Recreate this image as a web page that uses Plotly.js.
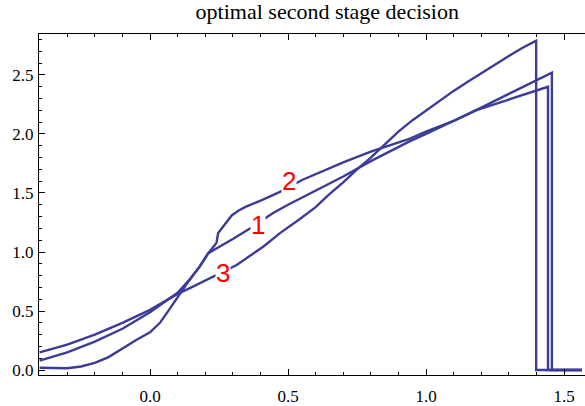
<!DOCTYPE html>
<html>
<head>
<meta charset="utf-8">
<script src="https://cdn.plot.ly/plotly-3.0.1.min.js"></script>
<style>html,body{margin:0;padding:0;background:#fff;}#chart{width:585px;height:406px;}</style>
</head>
<body>
<div id="chart"></div>
<script>
// Curve 1
const x1 = [-0.4,-0.3,-0.2,-0.1,0.0,0.05,0.1,0.145,0.181,0.211,0.25,0.3,0.362,0.446,0.5,0.6,0.7,0.8,0.9,0.942,1.0,1.1,1.18,1.3,1.4,1.456,1.456,1.565];
const y1 = [0.08,0.15,0.24,0.35,0.49,0.57,0.655,0.77,0.88,0.99,1.04,1.11,1.20,1.33,1.40,1.52,1.64,1.77,1.89,1.94,2.00,2.11,2.20,2.34,2.455,2.52,0,0];
// Curve 2
const x2 = [-0.4,-0.35,-0.3,-0.25,-0.2,-0.15,-0.1,-0.05,0.0,0.036,0.072,0.109,0.145,0.181,0.211,0.235,0.241,0.247,0.26,0.272,0.296,0.32,0.344,0.405,0.471,0.551,0.6,0.7,0.8,0.9,0.942,1.0,1.1,1.18,1.3,1.442,1.442,1.565];
const y2 = [0.02,0.015,0.015,0.03,0.06,0.11,0.185,0.255,0.32,0.40,0.52,0.65,0.77,0.88,0.99,1.06,1.08,1.16,1.20,1.24,1.31,1.35,1.38,1.44,1.51,1.61,1.66,1.76,1.85,1.93,1.96,2.02,2.11,2.20,2.29,2.40,0,0];
// Curve 3
const x3 = [-0.4,-0.3,-0.2,-0.1,0.0,0.05,0.1,0.15,0.2,0.236,0.314,0.41,0.471,0.543,0.6,0.65,0.7,0.75,0.8,0.85,0.9,0.95,1.0,1.05,1.1,1.15,1.2,1.25,1.3,1.35,1.399,1.399,1.565];
const y3 = [0.15,0.215,0.30,0.40,0.51,0.575,0.645,0.70,0.76,0.80,0.89,1.045,1.16,1.28,1.38,1.49,1.59,1.70,1.80,1.91,2.02,2.115,2.20,2.285,2.365,2.44,2.515,2.59,2.66,2.73,2.79,0,0];

const labelText = ['1','2','3'];
const labelX = [0.39, 0.504, 0.265];
const labelY = [1.23, 1.60, 0.82];

const lineColor = '#3b3b98';
const traces = [[x1,y1],[x2,y2],[x3,y3]].map(([x,y]) => ({
  x: x, y: y, type: 'scatter', mode: 'lines',
  line: {color: lineColor, width: 2.4}, hoverinfo: 'skip', showlegend: false
}));

const tickFont = {family: 'Liberation Serif', size: 17, color: '#000'};
const layout = {
  width: 585, height: 406,
  margin: {l: 39, r: 0, t: 34, b: 31},
  paper_bgcolor: '#fff', plot_bgcolor: '#fff',
  title: {text: 'optimal second stage decision', font: {family: 'Liberation Serif', size: 22, color: '#000'},
          x: 0.528, xanchor: 'center', xref: 'paper', y: 0.972, yanchor: 'middle', yref: 'container'},
  xaxis: {range: [-0.4022, 1.576], showgrid: false, zeroline: false, showline: true, linecolor: '#000', linewidth: 1,
          mirror: 'allticks', ticks: 'inside', ticklen: 6, tickcolor: '#000', dtick: 0.5, tick0: 0,
          tickformat: '.1f', tickfont: tickFont, ticklabelstandoff: 6,
          minor: {dtick: 0.1, tick0: 0, ticks: 'inside', ticklen: 3, tickcolor: '#000', showgrid: false}},
  yaxis: {range: [-0.042, 2.847], showgrid: false, zeroline: false, showline: true, linecolor: '#000', linewidth: 1,
          ticks: 'inside', ticklen: 6, tickcolor: '#000', dtick: 0.5, tick0: 0,
          tickformat: '.1f', tickfont: tickFont, ticklabelstandoff: 1,
          minor: {dtick: 0.1, tick0: 0, ticks: 'inside', ticklen: 3, tickcolor: '#000', showgrid: false}},
  annotations: labelText.map((t, i) => ({
    x: labelX[i], y: labelY[i], xref: 'x', yref: 'y', text: t, showarrow: false,
    font: {family: 'Liberation Sans', size: 26, color: '#ff0000'},
    bgcolor: '#fff', borderpad: 0, xanchor: 'center', yanchor: 'middle'
  }))
};
Plotly.newPlot('chart', traces, layout, {staticPlot: true, displayModeBar: false});
</script>
</body>
</html>
